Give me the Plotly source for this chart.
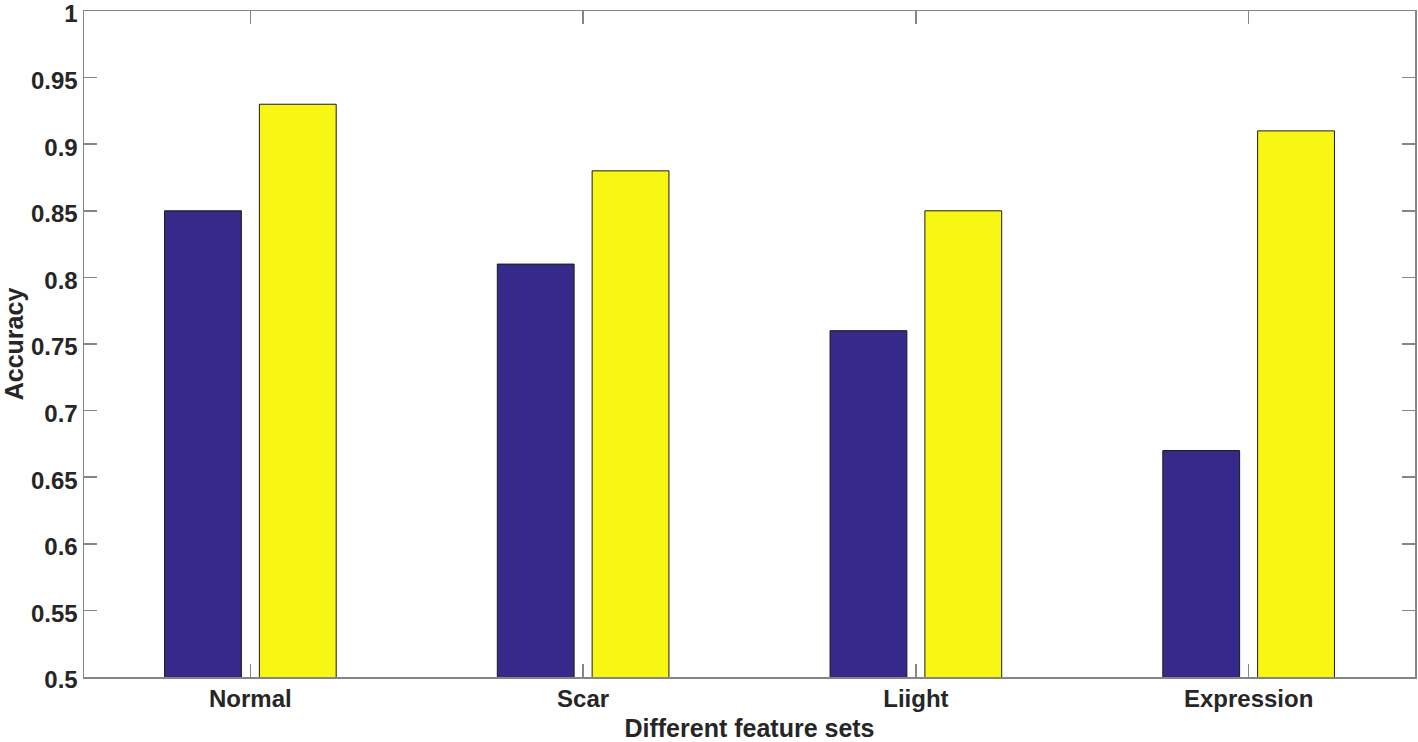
import plotly.graph_objects as go

categories = ["Normal", "Scar", "Liight", "Expression"]
series_a = [0.85, 0.81, 0.76, 0.67]
series_b = [0.93, 0.88, 0.85, 0.91]
y_tick_vals = [0.5, 0.55, 0.6, 0.65, 0.7, 0.75, 0.8, 0.85, 0.9, 0.95, 1.0]
y_tick_text = ["0.5", "0.55", "0.6", "0.65", "0.7", "0.75", "0.8", "0.85", "0.9", "0.95", "1"]

FONT = "Liberation Sans, Arial, Helvetica, sans-serif"
AXIS_COLOR = "#858585"
TEXT_COLOR = "#262626"

fig = go.Figure()
fig.add_trace(go.Bar(x=categories, y=series_a,
                     marker=dict(color="#35298A", line=dict(color="#1a1a1a", width=1)),
                     showlegend=False, hoverinfo="skip"))
fig.add_trace(go.Bar(x=categories, y=series_b,
                     marker=dict(color="#F8F714", line=dict(color="#1a1a1a", width=1)),
                     showlegend=False, hoverinfo="skip"))

fig.update_layout(
    width=1418, height=742,
    margin=dict(l=84, r=3, t=11, b=65),
    paper_bgcolor="white", plot_bgcolor="white",
    barmode="group", bargap=0.43, bargroupgap=0.19,
    font=dict(family=FONT, color=TEXT_COLOR, size=20),
)
fig.update_xaxes(
    type="category", range=[-0.5, 3.5], automargin=False,
    showline=True, linecolor=AXIS_COLOR, linewidth=1.5, mirror="ticks",
    ticks="inside", ticklen=13, tickcolor=AXIS_COLOR, tickwidth=1.5,
    showgrid=False, zeroline=False, ticklabeloverflow="allow",
    tickfont=dict(family=FONT, size=24, color=TEXT_COLOR, weight="bold"),
    title=dict(text="Different feature sets", font=dict(family=FONT, size=25, color=TEXT_COLOR, weight="bold"), standoff=12),
)
fig.update_yaxes(
    range=[0.5, 1.0], automargin=False,
    tickvals=y_tick_vals, ticktext=y_tick_text,
    showline=True, linecolor=AXIS_COLOR, linewidth=1.5, mirror="ticks",
    ticks="inside", ticklen=13, tickcolor=AXIS_COLOR, tickwidth=1.5,
    showgrid=False, zeroline=False, ticklabeloverflow="allow", ticklabelshift=3,
    tickfont=dict(family=FONT, size=24, color=TEXT_COLOR, weight="bold"),
    title=dict(text="Accuracy", font=dict(family=FONT, size=25, color=TEXT_COLOR, weight="bold"), standoff=6),
)

fig.write_html(
    "out.html",
    config={"displayModeBar": False, "staticPlot": True},
    post_script="document.body.style.margin='0';document.body.style.padding='0';document.body.style.overflow='hidden';",
)
